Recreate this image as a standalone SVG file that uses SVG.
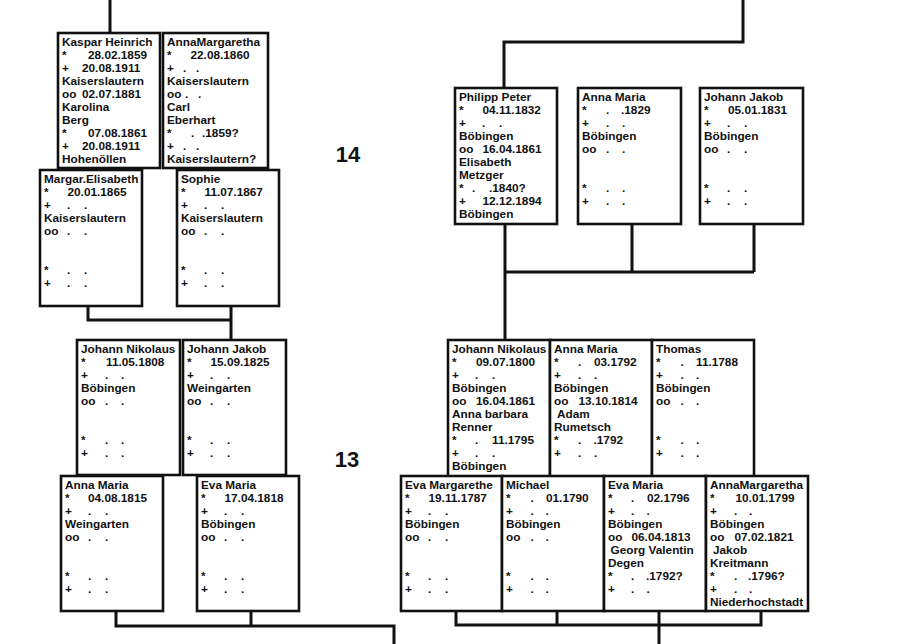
<svg xmlns="http://www.w3.org/2000/svg" width="897" height="644" viewBox="0 0 897 644">
<style>
.bx{fill:#fff;stroke:#111;stroke-width:2.6}
.cn{fill:none;stroke:#111;stroke-width:3}
text{font-family:"Liberation Sans",Arial,sans-serif;font-weight:bold;font-size:11.8px;fill:#111}
.gen{font-size:22px}
</style>
<rect width="897" height="644" fill="#fff"/>
<g id="connectors">
<path class="cn" d="M110 0V33"/>
<path class="cn" d="M88 306V320H231M231 306V340"/>
<path class="cn" d="M116 611V626H394V644M251 611V626"/>
<path class="cn" d="M743 0V42H504V88"/>
<path class="cn" d="M505 224V341M632 224V272M754 224V272M505 272H754"/>
<path class="cn" d="M456 611V625H761V611M557 611V625M659 611V644"/>
</g>
<text class="gen" x="348" y="162" text-anchor="middle">14</text>
<text class="gen" x="347" y="467" text-anchor="middle">13</text>

<g id="kaspar-heinrich" transform="translate(58,33)">
<rect class="bx" width="102" height="135"/>
<text x="4" y="13">Kaspar Heinrich</text>
<text y="26"><tspan x="4">*</tspan><tspan x="30">28.02.1859</tspan></text>
<text y="39"><tspan x="4">+</tspan><tspan x="24">20.08.1911</tspan></text>
<text x="4" y="52">Kaiserslautern</text>
<text y="65"><tspan x="4">oo</tspan><tspan x="24">02.07.1881</tspan></text>
<text x="4" y="78">Karolina</text>
<text x="4" y="91">Berg</text>
<text y="104"><tspan x="4">*</tspan><tspan x="30">07.08.1861</tspan></text>
<text y="117"><tspan x="4">+</tspan><tspan x="24">20.08.1911</tspan></text>
<text x="4" y="130">Hohenöllen</text>
</g>
<g id="annamargaretha-1860" transform="translate(163,33)">
<rect class="bx" width="105" height="135"/>
<text x="4" y="13">AnnaMargaretha</text>
<text y="26"><tspan x="4">*</tspan><tspan x="27.5">22.08.1860</tspan></text>
<text x="4 20 33" y="39">+..</text>
<text x="4" y="52">Kaiserslautern</text>
<text y="65"><tspan x="4">oo</tspan><tspan x="22">.</tspan><tspan x="35">.</tspan></text>
<text x="4" y="78">Carl</text>
<text x="4" y="91">Eberhart</text>
<text y="104"><tspan x="4">*</tspan><tspan x="28">.</tspan><tspan x="39">.1859?</tspan></text>
<text x="4 20 33" y="117">+..</text>
<text x="4" y="130">Kaiserslautern?</text>
</g>
<g id="margar-elisabeth" transform="translate(40,170)">
<rect class="bx" width="102" height="136"/>
<text x="4" y="13">Margar.Elisabeth</text>
<text y="26"><tspan x="4">*</tspan><tspan x="27.5">20.01.1865</tspan></text>
<text x="4 27 44" y="39">+..</text>
<text x="4" y="52">Kaiserslautern</text>
<text y="65"><tspan x="4">oo</tspan><tspan x="27">.</tspan><tspan x="44">.</tspan></text>
<text x="4 27 44" y="104">*..</text>
<text x="4 27 44" y="117">+..</text>
</g>
<g id="sophie" transform="translate(177,170)">
<rect class="bx" width="102" height="136"/>
<text x="4" y="13">Sophie</text>
<text y="26"><tspan x="4">*</tspan><tspan x="27.5">11.07.1867</tspan></text>
<text x="4 27 44" y="39">+..</text>
<text x="4" y="52">Kaiserslautern</text>
<text y="65"><tspan x="4">oo</tspan><tspan x="27">.</tspan><tspan x="44">.</tspan></text>
<text x="4 27 44" y="104">*..</text>
<text x="4 27 44" y="117">+..</text>
</g>
<g id="johann-nikolaus-1808" transform="translate(77,340)">
<rect class="bx" width="103" height="135"/>
<text x="4" y="13">Johann Nikolaus</text>
<text y="26"><tspan x="4">*</tspan><tspan x="29">11.05.1808</tspan></text>
<text x="4 28 44" y="39">+..</text>
<text x="4" y="52">Böbingen</text>
<text y="65"><tspan x="4">oo</tspan><tspan x="28">.</tspan><tspan x="44">.</tspan></text>
<text x="4 28 44" y="104">*..</text>
<text x="4 28 44" y="117">+..</text>
</g>
<g id="johann-jakob-1825" transform="translate(183,340)">
<rect class="bx" width="103" height="135"/>
<text x="4" y="13">Johann Jakob</text>
<text y="26"><tspan x="4">*</tspan><tspan x="27.5">15.09.1825</tspan></text>
<text x="4 27 44" y="39">+..</text>
<text x="4" y="52">Weingarten</text>
<text y="65"><tspan x="4">oo</tspan><tspan x="27">.</tspan><tspan x="44">.</tspan></text>
<text x="4 27 44" y="104">*..</text>
<text x="4 27 44" y="117">+..</text>
</g>
<g id="anna-maria-1815" transform="translate(61,476)">
<rect class="bx" width="102" height="135"/>
<text x="4" y="13">Anna Maria</text>
<text y="26"><tspan x="4">*</tspan><tspan x="27">04.08.1815</tspan></text>
<text x="4 27 44" y="39">+..</text>
<text x="4" y="52">Weingarten</text>
<text y="65"><tspan x="4">oo</tspan><tspan x="27">.</tspan><tspan x="44">.</tspan></text>
<text x="4 27 44" y="104">*..</text>
<text x="4 27 44" y="117">+..</text>
</g>
<g id="eva-maria-1818" transform="translate(197,476)">
<rect class="bx" width="102" height="135"/>
<text x="4" y="13">Eva Maria</text>
<text y="26"><tspan x="4">*</tspan><tspan x="27.5">17.04.1818</tspan></text>
<text x="4 27 44" y="39">+..</text>
<text x="4" y="52">Böbingen</text>
<text y="65"><tspan x="4">oo</tspan><tspan x="27">.</tspan><tspan x="44">.</tspan></text>
<text x="4 27 44" y="104">*..</text>
<text x="4 27 44" y="117">+..</text>
</g>

<g id="philipp-peter" transform="translate(455,88)">
<rect class="bx" width="102" height="136"/>
<text x="4" y="13">Philipp Peter</text>
<text y="26"><tspan x="4">*</tspan><tspan x="27.5">04.11.1832</tspan></text>
<text x="4 27 44" y="39">+..</text>
<text x="4" y="52">Böbingen</text>
<text y="65"><tspan x="4">oo</tspan><tspan x="27.5">16.04.1861</tspan></text>
<text x="4" y="78">Elisabeth</text>
<text x="4" y="91">Metzger</text>
<text y="104"><tspan x="4">*</tspan><tspan x="17">.</tspan><tspan x="34">.1840?</tspan></text>
<text y="117"><tspan x="4">+</tspan><tspan x="27.5">12.12.1894</tspan></text>
<text x="4" y="130">Böbingen</text>
</g>
<g id="anna-maria-1829" transform="translate(578,88)">
<rect class="bx" width="103" height="136"/>
<text x="4" y="13">Anna Maria</text>
<text y="26"><tspan x="4">*</tspan><tspan x="28">.</tspan><tspan x="43">.1829</tspan></text>
<text x="4 28 44" y="39">+..</text>
<text x="4" y="52">Böbingen</text>
<text y="65"><tspan x="4">oo</tspan><tspan x="28">.</tspan><tspan x="44">.</tspan></text>
<text x="4 28 44" y="104">*..</text>
<text x="4 28 44" y="117">+..</text>
</g>
<g id="johann-jakob-1831" transform="translate(700,88)">
<rect class="bx" width="103" height="136"/>
<text x="4" y="13">Johann Jakob</text>
<text y="26"><tspan x="4">*</tspan><tspan x="28">05.01.1831</tspan></text>
<text x="4 27 44" y="39">+..</text>
<text x="4" y="52">Böbingen</text>
<text y="65"><tspan x="4">oo</tspan><tspan x="27">.</tspan><tspan x="44">.</tspan></text>
<text x="4 27 44" y="104">*..</text>
<text x="4 27 44" y="117">+..</text>
</g>
<g id="johann-nikolaus-1800" transform="translate(448,340)">
<rect class="bx" width="102" height="137"/>
<text x="4" y="13">Johann Nikolaus</text>
<text y="26"><tspan x="4">*</tspan><tspan x="28">09.07.1800</tspan></text>
<text x="4 27 44" y="39">+..</text>
<text x="4" y="52">Böbingen</text>
<text y="65"><tspan x="4">oo</tspan><tspan x="28">16.04.1861</tspan></text>
<text x="4" y="78">Anna barbara</text>
<text x="4" y="91">Renner</text>
<text y="104"><tspan x="4">*</tspan><tspan x="27">.</tspan><tspan x="44">11.1795</tspan></text>
<text x="4 27 44" y="117">+..</text>
<text x="4" y="130">Böbingen</text>
</g>
<g id="anna-maria-1792" transform="translate(550,340)">
<rect class="bx" width="102" height="137"/>
<text x="4" y="13">Anna Maria</text>
<text y="26"><tspan x="4">*</tspan><tspan x="28">.</tspan><tspan x="44">03.1792</tspan></text>
<text x="4 28 44" y="39">+..</text>
<text x="4" y="52">Böbingen</text>
<text y="65"><tspan x="4">oo</tspan><tspan x="28.5">13.10.1814</tspan></text>
<text x="7" y="78">Adam</text>
<text x="4" y="91">Rumetsch</text>
<text y="104"><tspan x="4">*</tspan><tspan x="28">.</tspan><tspan x="43.5">.1792</tspan></text>
<text x="4 28 44" y="117">+..</text>
</g>
<g id="thomas" transform="translate(652,340)">
<rect class="bx" width="102" height="137"/>
<text x="4" y="13">Thomas</text>
<text y="26"><tspan x="4">*</tspan><tspan x="28.5">.</tspan><tspan x="44">11.1788</tspan></text>
<text x="4 28.5 44" y="39">+..</text>
<text x="4" y="52">Böbingen</text>
<text y="65"><tspan x="4">oo</tspan><tspan x="28.5">.</tspan><tspan x="44">.</tspan></text>
<text x="4 28.5 44" y="104">*..</text>
<text x="4 28.5 44" y="117">+..</text>
</g>
<g id="eva-margarethe" transform="translate(401,476)">
<rect class="bx" width="101" height="135"/>
<text x="4" y="13">Eva Margarethe</text>
<text y="26"><tspan x="4">*</tspan><tspan x="27.5">19.11.1787</tspan></text>
<text x="4 27 44" y="39">+..</text>
<text x="4" y="52">Böbingen</text>
<text y="65"><tspan x="4">oo</tspan><tspan x="27">.</tspan><tspan x="44">.</tspan></text>
<text x="4 27 44" y="104">*..</text>
<text x="4 27 44" y="117">+..</text>
</g>
<g id="michael" transform="translate(502,476)">
<rect class="bx" width="102" height="135"/>
<text x="4" y="13">Michael</text>
<text y="26"><tspan x="4">*</tspan><tspan x="28.5">.</tspan><tspan x="44">01.1790</tspan></text>
<text x="4 28.5 43.5" y="39">+..</text>
<text x="4" y="52">Böbingen</text>
<text y="65"><tspan x="4">oo</tspan><tspan x="28.5">.</tspan><tspan x="43.5">.</tspan></text>
<text x="4 28.5 43.5" y="104">*..</text>
<text x="4 28.5 43.5" y="117">+..</text>
</g>
<g id="eva-maria-1796" transform="translate(604,476)">
<rect class="bx" width="102" height="135"/>
<text x="4" y="13">Eva Maria</text>
<text y="26"><tspan x="4">*</tspan><tspan x="27">.</tspan><tspan x="43">02.1796</tspan></text>
<text x="4 27 42.5" y="39">+..</text>
<text x="4" y="52">Böbingen</text>
<text y="65"><tspan x="4">oo</tspan><tspan x="27.5">06.04.1813</tspan></text>
<text x="6.5" y="78">Georg Valentin</text>
<text x="4" y="91">Degen</text>
<text y="104"><tspan x="4">*</tspan><tspan x="27">.</tspan><tspan x="42">.1792?</tspan></text>
<text x="4 27 42.5" y="117">+..</text>
</g>
<g id="annamargaretha-1799" transform="translate(706,476)">
<rect class="bx" width="102" height="135"/>
<text x="4" y="13">AnnaMargaretha</text>
<text y="26"><tspan x="4">*</tspan><tspan x="29.5">10.01.1799</tspan></text>
<text x="4 28 43" y="39">+..</text>
<text x="4" y="52">Böbingen</text>
<text y="65"><tspan x="4">oo</tspan><tspan x="28.5">07.02.1821</tspan></text>
<text x="7" y="78">Jakob</text>
<text x="4" y="91">Kreitmann</text>
<text y="104"><tspan x="4">*</tspan><tspan x="28">.</tspan><tspan x="42">.1796?</tspan></text>
<text x="4 28 43" y="117">+..</text>
<text x="4" y="130">Niederhochstadt</text>
</g>
</svg>
